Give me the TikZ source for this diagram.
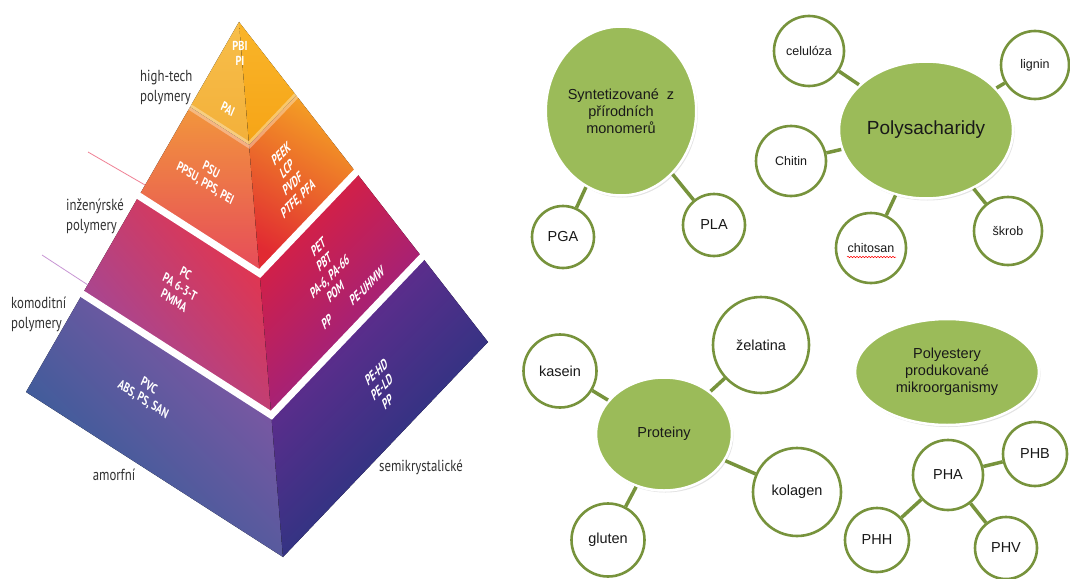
\documentclass[tikz,border=0pt]{standalone}
\usepackage{fontspec}
\setmainfont{Liberation Sans}
\newfontfamily\pyrfont[FakeStretch=0.8]{PT Sans}
\usetikzlibrary{shapes.geometric, calc, shadows, decorations.pathmorphing}
\definecolor{leafgreen}{RGB}{155, 187, 89}
\definecolor{olivegreen}{RGB}{119, 147, 60}
\definecolor{labelgray}{RGB}{50, 50, 50}
\definecolor{inkblack}{RGB}{25, 25, 25}

\begin{document}
\begin{tikzpicture}[x=1pt, y=-1pt,
    hub/.style={ellipse, fill=leafgreen, draw=white, line width=2.5pt, inner sep=0pt,
                align=center, text=inkblack, font=\fontsize{14.5}{17}\selectfont,
                drop shadow={opacity=0.22, shadow xshift=1.5pt, shadow yshift=-2pt}},
    leaf/.style={circle, fill=white, draw=olivegreen, line width=2.6pt, inner sep=0pt,
                 text=inkblack, font=\fontsize{14.5}{17}\selectfont},
    small/.style={font=\fontsize{12.5}{15}\selectfont},
    link/.style={draw=olivegreen, line width=3.5pt},
    tier/.style={align=left, text=labelgray, inner sep=0pt,
                 font=\pyrfont\fontsize{16}{20}\selectfont},
    lface/.style={align=center, text=white, rotate=-33, xslant=-0.17,
                  font=\pyrfont\bfseries\fontsize{13}{14.5}\selectfont},
    rface/.style={align=center, text=white, rotate=45, xslant=0.45,
                  font=\pyrfont\bfseries\fontsize{13}{14.5}\selectfont}]
  \fill[white] (0,0) rectangle (1070,578);
  \useasboundingbox (0,0) rectangle (1070,578);

  % pyramid: apex, left corner, front corner, right corner
  \coordinate (A) at (239,22);
  \coordinate (L) at (26,392);
  \coordinate (F) at (283,557);
  \coordinate (R) at (488,342);
  \foreach \t/\n in {0.23/a, 0.47/b, 0.735/c} {
    \coordinate (L\n) at ($(A)!\t!(L)$);
    \coordinate (F\n) at ($(A)!\t!(F)$);
    \coordinate (R\n) at ($(A)!\t!(R)$);
  }

  \fill[top color={rgb,255:red,247;green,190;blue,74}, bottom color={rgb,255:red,243;green,176;blue,58}]
    (A) -- (Fa) -- (La) -- cycle;
  \fill[top color={rgb,255:red,249;green,181;blue,42}, bottom color={rgb,255:red,246;green,164;blue,22}]
    (A) -- (Ra) -- (Fa) -- cycle;
  \fill[top color={rgb,255:red,242;green,150;blue,60}, bottom color={rgb,255:red,230;green,74;blue,90}]
    (La) -- (Fa) -- (Fb) -- (Lb) -- cycle;
  \fill[top color={rgb,255:red,244;green,160;blue,36}, bottom color={rgb,255:red,225;green,42;blue,50}, shading angle=-30]
    (Fa) -- (Ra) -- (Rb) -- (Fb) -- cycle;
  \fill[top color={rgb,255:red,230;green,52;blue,74}, bottom color={rgb,255:red,154;green,74;blue,160}, shading angle=-50]
    (Lb) -- (Fb) -- (Fc) -- (Lc) -- cycle;
  \fill[top color={rgb,255:red,221;green,31;blue,60}, bottom color={rgb,255:red,138;green,35;blue,146}, shading angle=45]
    (Fb) -- (Rb) -- (Rc) -- (Fc) -- cycle;
  \fill[top color={rgb,255:red,134;green,86;blue,164}, bottom color={rgb,255:red,44;green,94;blue,152}, shading angle=-45]
    (Lc) -- (Fc) -- (F) -- (L) -- cycle;
  \fill[top color={rgb,255:red,110;green,42;blue,144}, bottom color={rgb,255:red,21;green,56;blue,124}, shading angle=45]
    (Fc) -- (Rc) -- (R) -- (F) -- cycle;

  % bands between the tiers
  \draw[white, opacity=0.35, line width=6pt, shorten <=-6pt, shorten >=-6pt] (La) -- (Fa) -- (Ra);
  \draw[white, line width=7pt, shorten <=-6pt, shorten >=-6pt] (Lb) -- (Fb) -- (Rb);
  \draw[white, line width=7pt, shorten <=-6pt, shorten >=-6pt] (Lc) -- (Fc) -- (Rc);
  \draw[color={rgb,255:red,240;green,130;blue,150}, line width=0.8pt] (88,152) -- (145,185);
  \draw[color={rgb,255:red,200;green,150;blue,212}, line width=0.8pt] (42,255) -- (88,285);

  \node[tier, anchor=north west] (hightech) at (140,70) {high-tech\\polymery};
  \node[tier, anchor=north west] (eng) at (66,199) {inženýrské\\polymery};
  \node[tier, anchor=north west] (comm) at (11,297) {komoditní\\polymery};
  \node[tier] (amorph) at (114,475) {amorfní};
  \node[tier] (semi) at (421,467) {semikrystalické};

  \node[align=center, text=white, font=\pyrfont\bfseries\fontsize{13}{15}\selectfont] (pbi) at (240,53) {PBI\\PI};
  \node[lface] (pai) at (228,109) {PAI};
  \node[lface] (psu) at (208,177) {PSU\\PPSU, PPS, PEI};
  \node[lface] (pc) at (180,287) {PC\\PA 6-3-T\\PMMA};
  \node[lface] (pvc) at (146,393) {PVC\\ABS, PS, SAN};
  \node[rface] (peek) at (290,177) {PEEK\\LCP\\PVDF\\PTFE, PFA};
  \node[rface] (pet) at (327,269) {PET\\PBT\\PA-6, PA-66\\POM};
  \node[rface] (uhmw) at (367,286) {PE-UHMW};
  \node[rface] (pp) at (327,322) {PP};
  \node[rface] (pehd) at (382,387) {PE-HD\\PE-LD\\PP};

  % mind maps
  \node[hub, minimum width=150pt, minimum height=169pt] (syn) at (621,111) {Syntetizované~ z\\přírodních\\monomerů};
  \node[leaf, minimum size=62pt] (pga) at (563,237) {PGA};
  \node[leaf, minimum size=62pt] (pla) at (714,225) {PLA};
  \draw[link] (syn) -- (pga);
  \draw[link] (syn) -- (pla);

  \node[hub, minimum width=174pt, minimum height=137pt, font=\fontsize{19}{22}\selectfont] (poly) at (926,130) {Polysacharidy};
  \node[leaf, small, minimum size=70pt] (celuloza) at (809,51) {celulóza};
  \node[leaf, small, minimum size=68pt] (lignin) at (1035,65) {lignin};
  \node[leaf, small, minimum size=70pt] (chitin) at (791,161) {Chitin};
  \node[leaf, small, minimum size=70pt] (chitosan) at (871,248) {chitosan};
  \node[leaf, small, minimum size=68pt] (skrob) at (1008,231) {škrob};
  \foreach \n in {celuloza, lignin, chitin, chitosan, skrob}
    \draw[link] (poly) -- (\n);
  \draw[red, line width=0.5pt, decorate, decoration={snake, amplitude=0.7pt, segment length=3pt}]
    ($(chitosan)+(-24,9)$) -- ($(chitosan)+(25,9)$);

  \node[hub, minimum width=136pt, minimum height=113pt] (prot) at (664,434) {Proteiny};
  \node[leaf, minimum size=73pt] (kasein) at (560,371) {kasein};
  \node[leaf, minimum size=96pt] (zelatina) at (761,345) {želatina};
  \node[leaf, minimum size=88pt] (kolagen) at (797,492) {kolagen};
  \node[leaf, minimum size=73pt] (gluten) at (608,540) {gluten};
  \foreach \n in {kasein, zelatina, kolagen, gluten}
    \draw[link] (prot) -- (\n);

  \node[hub, minimum width=184pt, minimum height=106pt] (polyest) at (947,372) {Polyestery\\produkované\\mikroorganismy};
  \node[leaf, minimum size=70pt] (pha) at (948,475) {PHA};
  \node[leaf, minimum size=64pt] (phb) at (1035,454) {PHB};
  \node[leaf, minimum size=64pt] (phh) at (877,540) {PHH};
  \node[leaf, minimum size=62pt] (phv) at (1006,548) {PHV};
  \foreach \n in {phb, phh, phv}
    \draw[link] (pha) -- (\n);
\end{tikzpicture}
\end{document}
